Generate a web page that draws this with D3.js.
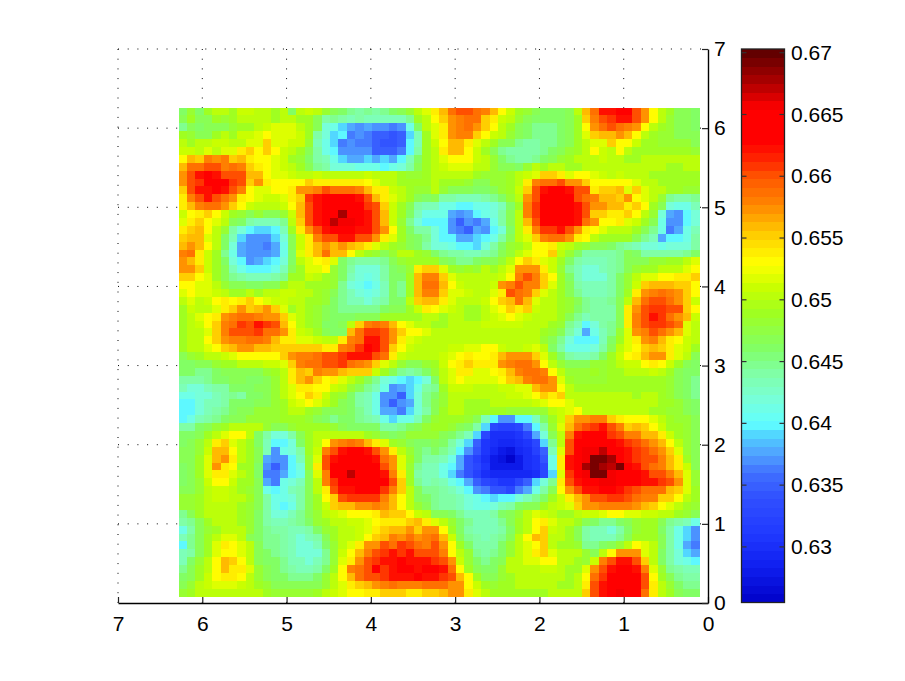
<!DOCTYPE html>
<html><head><meta charset="utf-8">
<script src="https://cdn.jsdelivr.net/npm/d3@7/dist/d3.min.js"></script>
<style>html,body{margin:0;background:#fff}svg{display:block;font-family:"Liberation Sans",Arial,sans-serif}</style>
</head><body><svg id="c" width="905" height="681"></svg>
<script>
const xTicks=[0,1,2,3,4,5,6,7];
const yTicks=[0,1,2,3,4,5,6,7];
const barTicks=[0.63,0.635,0.64,0.645,0.65,0.655,0.66,0.665,0.67];
const barTickLabels=["0.63","0.635","0.64","0.645","0.65","0.655","0.66","0.665","0.67"];
const valueRange=[0.6255,0.6703];
const extentX=[0.1,6.28];
const extentY=[0.08,6.26];
const stopValues=[0.6255,0.6285,0.631,0.634,0.636,0.6375,0.639,0.64,0.642,0.644,0.646,0.649,0.651,0.6530,0.655,0.6565,0.658,0.66,0.661,0.6628,0.6655,0.6675,0.6703];
const stopColors=["#0000c8","#1020f0","#2038ff","#3050ff","#4070ff","#50a0ff","#50d0ff","#60ffff","#78ffd8","#80ffa8","#80ff68","#a0ff20","#c8ff00","#ffff00","#ffd500","#ffaa00","#ff8000","#ff5500","#ff3000","#ff0000","#ff0000","#b00000","#580000"];
// cell values: thousandths above 0.6
const cells=[
[46,48,46,49,50,50,49,51,51,50,50,49,50,46,50,51,50,48,47,46,45,44,45,44,45,46,47,48,50,52,54,56,59,60,60,59,58,56,53,51,49,48,47,46,46,46,47,50,56,59,62,62,64,64,60,57,53,50,49,47,47,46],
[47,49,47,47,49,48,49,50,50,50,50,49,50,50,49,49,47,44,45,44,43,44,43,43,43,43,43,45,49,50,53,55,57,58,59,59,55,54,51,50,48,47,46,46,46,46,47,49,55,58,60,61,62,62,60,57,53,50,48,47,47,46],
[45,47,46,47,47,47,48,49,49,50,51,52,52,52,50,49,47,42,41,39,38,37,38,37,37,36,37,41,46,50,52,54,57,58,59,57,55,53,50,49,47,46,45,45,45,46,47,49,53,57,59,60,59,58,57,53,50,49,48,47,47,46],
[49,48,47,47,49,50,49,51,51,52,53,52,52,52,51,49,44,42,39,40,36,37,36,35,35,34,35,39,43,49,52,54,57,58,58,55,53,51,50,48,47,46,45,45,45,46,47,49,52,55,56,56,57,56,53,50,49,48,48,47,47,47],
[50,49,50,50,51,51,50,50,52,52,55,52,52,51,51,48,43,41,39,36,37,36,36,35,34,34,35,40,43,49,51,53,56,56,54,52,50,49,47,47,45,44,44,45,45,46,47,49,50,52,52,55,53,53,51,49,49,48,48,48,48,47],
[51,51,50,52,50,52,52,54,55,53,55,53,51,50,49,47,44,41,40,37,37,37,37,35,35,35,36,40,44,49,50,54,56,56,53,51,49,47,45,44,44,44,44,45,46,47,48,49,50,53,51,50,53,50,49,49,49,49,49,49,49,48],
[53,56,55,58,57,58,55,56,54,53,53,52,51,49,48,46,44,43,41,39,38,38,39,38,39,38,40,43,46,49,50,52,53,53,53,51,50,48,46,45,44,44,45,46,47,48,49,50,50,50,51,50,50,49,49,50,50,50,50,50,50,50],
[56,59,59,60,60,58,59,58,55,54,53,52,51,50,49,47,45,44,42,42,42,41,41,41,40,41,42,44,47,49,50,51,52,52,52,50,50,48,47,47,46,48,50,49,50,50,49,49,50,50,50,50,50,50,50,50,50,50,49,49,50,50],
[57,60,62,63,62,60,60,60,56,56,53,52,52,51,50,50,51,50,50,50,50,50,51,50,50,50,49,48,48,49,50,50,50,50,50,49,48,48,48,49,50,51,52,55,55,54,52,53,53,52,51,50,51,50,50,50,49,49,49,49,49,49],
[57,60,61,63,63,63,61,60,55,57,54,53,53,53,53,55,54,54,54,54,54,54,53,52,50,50,49,49,49,49,50,49,49,49,48,47,47,48,48,49,50,54,58,59,59,60,57,57,55,53,53,53,53,53,52,50,50,49,49,49,49,49],
[55,60,62,62,63,62,60,58,53,52,52,53,53,54,57,57,58,60,59,59,59,58,56,54,54,51,50,49,48,48,50,48,47,47,47,46,46,47,48,49,51,55,60,62,63,63,62,60,60,54,55,55,56,52,55,52,50,50,49,49,48,48],
[54,58,60,62,60,59,57,54,53,52,51,51,52,54,55,61,62,63,63,63,63,62,60,56,54,52,50,49,47,46,47,44,44,43,43,43,44,45,46,48,50,57,60,63,64,64,63,60,59,58,56,56,55,57,53,52,50,48,45,44,44,45],
[54,56,58,59,59,57,55,53,51,50,50,50,51,53,56,60,62,63,64,64,64,63,61,60,55,51,49,47,44,43,43,41,41,40,40,41,41,42,43,46,49,58,61,63,65,65,64,62,60,57,57,56,56,54,55,53,49,47,42,41,41,43],
[51,53,54,55,53,51,49,48,47,48,47,47,48,51,56,60,62,63,64,68,65,64,62,60,56,51,49,46,43,41,41,41,38,37,38,40,41,42,44,47,50,58,61,63,64,64,63,62,60,55,55,54,54,55,53,50,48,42,38,37,40,42],
[52,54,55,53,52,50,47,46,44,43,43,43,45,50,55,60,62,63,67,66,66,64,62,60,56,51,48,45,42,40,40,40,37,35,37,36,38,41,44,47,50,56,60,63,63,64,63,62,59,57,53,53,54,52,51,49,47,41,37,37,40,42],
[54,55,56,53,50,48,44,42,40,39,39,40,43,49,54,57,60,62,63,63,63,62,62,60,57,53,49,46,44,44,42,40,37,36,35,38,37,40,42,46,50,54,58,61,61,62,60,57,54,53,52,50,50,50,49,47,45,41,36,38,41,43],
[55,56,56,52,50,46,43,39,37,37,37,39,42,47,51,54,58,60,60,62,62,60,60,57,54,52,49,47,46,45,42,40,40,38,38,39,40,41,44,47,50,52,55,58,59,59,57,54,53,50,49,49,49,49,47,45,43,38,40,40,41,44],
[56,57,56,53,50,46,42,38,37,37,36,38,41,47,51,54,56,57,56,57,56,55,54,52,50,49,48,47,46,44,42,42,41,40,40,39,42,44,46,48,49,50,53,53,54,51,50,49,48,47,47,46,45,44,43,42,42,41,42,42,42,44],
[58,59,54,51,49,45,41,38,37,37,37,38,41,46,52,54,56,59,56,56,53,50,49,48,47,48,50,50,49,48,46,45,44,44,43,43,44,45,47,48,50,52,53,53,55,50,48,46,44,44,44,44,45,47,46,44,44,44,44,44,45,46],
[57,56,54,51,49,46,42,40,37,38,39,40,42,46,50,52,53,54,52,46,45,44,44,44,45,47,48,49,49,49,49,47,46,45,45,46,47,47,48,50,53,55,54,52,51,49,46,44,43,43,43,44,45,47,47,47,48,48,49,49,50,52],
[57,57,55,51,49,47,43,41,40,40,40,41,43,47,49,52,52,53,48,46,44,42,42,42,44,46,47,48,54,55,55,52,49,48,49,48,50,49,50,52,57,57,57,54,51,48,45,43,42,42,43,44,45,47,48,49,49,50,50,50,52,53],
[55,55,53,52,49,47,45,44,43,43,43,44,45,49,49,51,50,49,48,46,43,42,41,42,44,46,46,49,56,58,58,55,52,50,50,50,50,50,51,53,58,60,58,55,53,49,46,43,42,42,42,44,46,48,50,52,52,53,53,54,54,55],
[53,53,52,52,50,48,47,47,46,46,47,47,49,50,50,49,49,49,48,45,42,41,40,41,43,46,45,49,56,59,59,56,53,51,50,50,50,51,57,58,60,58,58,55,52,49,47,44,43,43,43,44,46,48,51,55,56,56,56,55,55,53],
[52,53,52,52,51,50,49,49,50,49,50,50,51,51,50,50,49,48,47,45,43,42,41,42,43,46,45,49,56,58,58,55,52,52,51,50,50,52,54,60,59,58,55,52,50,49,47,45,43,43,43,44,46,49,54,57,58,59,58,57,55,53],
[50,52,50,51,53,54,53,54,55,53,52,51,51,50,50,49,49,48,46,45,43,43,42,43,44,46,46,50,55,56,56,54,52,50,50,50,51,53,55,56,59,56,52,50,50,49,48,47,45,44,44,45,47,50,56,59,60,60,59,57,55,51],
[49,51,50,50,52,54,55,57,55,56,57,55,52,49,50,49,48,47,46,45,45,45,45,45,46,47,47,49,51,54,53,52,51,50,49,49,50,52,53,55,54,55,51,50,50,49,48,46,45,44,44,44,47,54,57,60,61,61,60,60,55,53],
[49,50,52,53,54,57,58,59,59,58,57,57,55,52,50,49,48,47,46,46,46,47,47,47,49,49,49,49,49,50,50,49,50,50,49,49,50,51,52,53,52,51,50,50,50,49,47,45,43,44,44,44,47,54,58,60,62,61,59,57,56,51],
[49,50,51,53,55,58,59,61,60,62,61,60,56,53,50,49,48,46,46,47,50,55,58,59,58,56,53,52,50,50,49,49,50,50,50,50,51,51,51,51,51,50,50,50,49,48,45,43,40,42,44,45,47,54,58,60,61,61,60,59,52,50],
[49,50,50,52,55,58,60,60,60,61,59,59,57,54,51,50,49,47,46,46,56,59,61,61,60,57,55,53,53,52,50,50,50,50,50,50,50,50,50,50,50,50,50,49,48,47,44,42,38,41,43,45,48,52,57,58,60,59,57,56,52,50],
[49,50,50,53,55,57,58,58,59,59,58,56,54,54,52,52,51,50,50,54,58,59,62,62,60,57,54,52,51,50,50,50,50,50,50,50,50,50,50,50,50,50,50,48,47,45,42,40,40,40,43,46,49,52,54,57,58,56,54,53,51,50],
[49,50,50,52,53,55,56,57,57,56,56,55,55,55,55,55,55,54,54,58,59,61,63,62,60,55,53,51,50,50,50,50,51,51,52,52,53,53,51,50,50,51,52,50,46,44,41,41,41,42,44,47,50,52,53,55,56,55,54,52,51,49],
[47,48,49,50,50,51,52,53,53,53,53,53,55,57,58,58,59,60,60,61,62,62,62,60,59,54,51,50,50,50,50,51,52,53,54,53,53,54,56,57,57,57,55,52,49,46,44,43,43,44,46,49,51,53,54,56,57,57,54,52,50,47],
[46,46,47,47,48,49,49,50,50,50,51,51,52,55,58,59,59,60,60,61,59,58,57,55,52,50,48,47,47,48,49,51,53,54,55,54,54,54,57,58,59,59,57,53,50,48,47,47,47,48,48,49,50,51,51,53,54,53,51,49,47,46],
[46,46,45,45,46,47,47,47,47,47,48,49,50,54,56,55,58,57,57,56,55,55,55,51,49,47,45,44,45,46,48,50,52,54,54,52,52,53,54,56,58,59,59,58,53,50,48,48,48,49,48,49,49,50,50,50,51,50,49,47,46,46],
[44,44,44,45,46,46,47,47,46,46,47,48,50,54,56,57,55,53,54,52,50,49,47,45,42,41,40,39,40,42,46,50,52,53,52,52,52,52,53,55,56,58,59,59,57,52,49,48,48,48,48,49,49,49,49,49,49,49,48,47,46,45],
[43,42,42,43,44,44,46,46,46,47,47,48,50,52,54,54,53,53,51,50,48,47,45,43,41,37,38,39,41,44,45,49,51,51,51,50,50,50,51,51,52,52,56,57,57,53,50,49,49,49,49,49,49,49,49,49,49,49,48,47,46,45],
[41,41,42,42,43,44,45,44,46,46,47,48,50,52,53,55,54,51,49,48,46,44,43,41,37,37,35,39,42,45,46,48,50,50,50,50,50,50,50,51,51,52,53,55,54,55,50,50,50,50,50,50,50,50,49,50,50,49,48,47,46,45],
[40,40,42,43,43,44,46,46,46,47,47,48,49,51,52,53,52,50,49,47,46,44,43,41,37,35,37,38,42,45,47,48,50,50,49,49,49,50,50,50,50,50,51,52,53,53,52,50,50,50,50,50,50,50,50,50,50,49,49,48,47,46],
[40,40,42,43,44,45,46,47,47,48,48,48,49,50,50,49,48,47,47,47,46,45,43,41,38,38,36,39,42,44,47,49,50,50,49,49,49,49,49,48,48,48,48,48,50,51,52,53,50,50,50,50,50,50,50,50,49,49,48,48,47,46],
[40,41,43,44,45,46,47,47,48,48,48,48,49,49,49,48,47,46,45,46,46,45,44,43,41,39,41,41,43,46,48,49,49,49,48,47,43,40,37,37,40,40,43,46,49,51,55,57,57,58,58,55,54,53,53,53,52,50,49,48,48,47],
[44,44,46,47,48,49,50,50,50,50,48,47,47,48,49,49,49,49,48,47,46,46,46,46,44,44,45,46,47,48,49,49,48,47,46,44,39,33,32,32,33,36,40,44,48,52,56,59,60,61,62,60,58,55,56,55,53,51,49,49,48,47],
[46,46,47,49,50,52,53,53,50,46,44,42,42,44,47,49,50,50,50,50,50,50,49,48,47,46,47,48,48,48,48,47,46,45,43,39,33,30,30,30,31,33,38,42,47,50,58,62,63,63,63,61,60,58,58,56,56,54,51,49,48,47],
[46,47,48,50,54,55,52,50,49,46,43,40,40,42,46,49,50,53,57,58,59,58,56,54,52,49,48,47,46,46,47,46,44,42,39,35,31,30,29,29,30,31,33,39,45,50,60,63,63,64,65,63,62,61,60,59,57,56,53,50,48,47],
[47,47,48,51,56,56,53,50,49,47,43,37,41,42,44,49,51,58,60,62,63,63,62,60,57,54,50,48,46,45,46,45,43,40,37,34,31,29,28,27,29,30,32,35,43,52,60,63,66,66,67,64,63,62,61,60,59,57,55,52,48,47],
[47,47,49,52,56,57,54,50,49,47,38,37,37,40,43,48,52,60,62,63,64,64,63,62,59,57,52,49,46,44,44,43,41,38,34,32,30,28,27,26,28,30,31,34,41,54,62,64,66,69,69,68,64,62,61,60,60,58,56,54,49,47],
[46,47,49,52,57,54,53,49,49,46,37,35,37,40,42,48,54,60,63,63,64,64,64,63,60,57,52,48,45,43,43,41,40,38,34,33,31,28,28,28,28,30,31,33,41,54,62,63,68,69,68,67,69,64,62,60,59,58,56,54,51,47],
[46,47,49,52,54,54,52,50,49,46,36,36,38,40,41,47,52,58,63,65,67,65,65,64,62,58,54,49,44,43,43,41,39,36,34,32,30,29,29,29,29,29,30,33,39,52,61,63,66,69,69,66,64,64,63,62,60,60,58,56,52,48],
[46,47,48,51,53,53,51,49,49,47,38,36,41,42,43,47,50,58,61,63,64,64,65,65,63,60,55,49,45,43,44,43,41,40,38,35,33,32,31,31,33,35,39,42,45,54,60,62,64,65,66,66,65,63,63,62,62,61,60,57,52,48],
[47,47,48,50,51,51,50,49,48,47,41,40,41,43,44,47,50,54,60,62,62,63,63,63,61,58,55,50,47,45,45,44,43,42,40,37,36,34,34,33,36,38,41,44,47,53,57,60,62,62,63,63,62,61,60,59,59,59,56,55,52,49],
[48,48,49,50,51,51,50,50,49,47,44,41,41,42,44,47,49,53,55,60,61,61,61,61,58,56,53,50,47,46,45,44,44,43,42,41,40,39,40,40,42,43,45,46,49,51,54,56,57,60,60,61,61,60,59,58,58,55,55,53,50,49],
[48,48,49,50,50,50,50,49,48,47,44,41,40,41,44,47,49,51,55,56,56,57,57,58,57,56,53,50,48,47,45,44,44,43,42,41,41,42,43,44,46,47,47,49,50,51,52,55,57,57,58,58,58,58,57,56,55,53,52,50,49,48],
[45,47,49,50,50,50,50,49,48,46,44,42,42,43,45,47,48,50,51,52,53,53,53,54,56,55,55,53,51,50,47,47,46,45,43,43,43,44,46,47,48,50,52,51,50,49,49,50,51,51,52,53,53,52,52,51,51,50,50,49,48,47],
[44,45,47,49,50,50,50,49,48,46,44,43,43,44,45,46,48,49,50,50,51,51,52,53,54,54,54,55,56,54,52,50,48,46,45,43,43,43,45,47,49,50,53,54,52,50,50,49,47,46,45,45,46,47,48,49,49,47,45,44,43,41],
[41,44,47,48,49,50,50,50,48,46,45,44,44,43,43,44,46,48,49,50,50,51,52,54,55,56,56,57,55,57,57,53,49,46,44,43,43,43,44,46,49,50,53,55,51,50,49,47,44,43,43,42,44,46,48,49,49,46,44,41,39,37],
[43,45,47,49,50,52,52,50,47,46,45,45,44,43,42,43,44,47,49,50,50,51,53,55,56,58,57,59,57,58,59,56,51,47,45,44,43,44,45,47,50,53,56,55,50,50,49,47,44,43,43,43,45,47,49,49,49,47,44,41,39,37],
[40,45,47,49,52,54,53,52,50,47,45,45,44,43,42,42,43,46,48,50,52,54,57,57,60,59,61,60,59,58,60,57,53,49,46,44,44,44,46,48,50,52,53,55,50,49,49,48,45,45,46,47,48,50,53,52,50,47,44,41,38,36],
[43,44,47,49,52,53,53,52,50,47,46,45,44,43,42,42,42,45,48,51,53,56,58,60,61,62,61,62,60,60,60,58,53,50,48,45,44,45,46,48,50,52,54,55,52,50,50,50,48,47,50,53,57,57,57,52,50,46,44,42,39,38],
[43,46,48,50,53,56,55,53,50,47,46,46,45,43,43,42,43,45,48,52,54,57,60,61,62,62,63,62,62,62,61,60,57,51,48,46,45,46,47,50,50,52,52,53,53,50,50,49,48,51,58,60,62,62,60,55,50,46,44,42,41,40],
[45,47,49,50,53,56,54,54,52,48,47,46,45,44,43,43,44,46,49,53,58,59,60,63,61,62,63,63,62,63,63,62,59,53,49,47,46,46,48,50,50,50,50,51,51,50,49,49,52,57,60,62,63,64,62,58,52,48,45,44,43,43],
[46,47,49,51,53,54,54,53,50,48,47,46,46,45,45,45,46,48,50,53,56,59,60,60,61,62,62,62,63,62,62,61,60,56,53,49,47,47,48,49,50,50,50,50,50,50,49,50,53,59,61,63,64,64,63,60,53,49,47,45,44,44],
[47,48,50,51,52,52,52,51,50,49,48,47,47,47,47,47,47,48,50,52,54,55,56,57,58,59,58,58,58,59,59,59,57,57,53,51,49,48,49,49,50,50,50,50,50,49,49,50,54,60,62,63,65,65,63,60,54,50,48,46,45,45],
[48,49,50,50,50,50,50,50,50,50,49,48,48,48,48,48,49,50,51,52,53,53,54,54,55,55,55,54,54,55,55,56,57,57,54,52,50,49,49,49,49,49,49,49,50,50,50,50,55,60,62,63,66,65,63,59,54,50,49,47,46,46]
];
const font=21;
const svg=d3.select("#c");
const x=d3.scaleLinear().domain([7,0]).range([118,708]);
const y=d3.scaleLinear().domain([0,7]).range([603,49]);
const cbY=d3.scaleLinear().domain(valueRange).range([602.5,49]);
const continuous=d3.scaleLinear().domain(stopValues).range(stopColors).interpolate(d3.interpolateRgb);
const bands=d3.range(64);
const bandStart=i=>valueRange[0]+(valueRange[1]-valueRange[0])*i/64;
const bandColor=bands.map(i=>continuous(bandStart(i+0.5)));
const colorOf=v=>bandColor[Math.max(0,Math.min(63,Math.floor((v-valueRange[0])/(valueRange[1]-valueRange[0])*64)))];
const dots="1 8.7";
const grid=svg.append("g").attr("stroke","#000").attr("stroke-width",1).attr("stroke-dasharray",dots).attr("fill","none");
grid.selectAll("line.v").data(xTicks.slice(1)).join("line").attr("x1",d=>x(d)).attr("x2",d=>x(d)).attr("y1",y(7)).attr("y2",y(0));
grid.selectAll("line.h").data(yTicks.slice(1)).join("line").attr("y1",d=>y(d)).attr("y2",d=>y(d)).attr("x1",x(7)).attr("x2",x(0));
const nRows=cells.length,nCols=cells[0].length;
const cw=(extentX[1]-extentX[0])/nCols,ch=(extentY[1]-extentY[0])/nRows;
const heat=svg.append("g").attr("shape-rendering","crispEdges");
cells.forEach((row,r)=>{
  heat.selectAll(null).data(row).join("rect")
    .attr("x",(d,c)=>x(extentX[1]-c*cw))
    .attr("width",(d,c)=>x(extentX[1]-(c+1)*cw)-x(extentX[1]-c*cw))
    .attr("y",y(extentY[1]-r*ch))
    .attr("height",y(extentY[1]-(r+1)*ch)-y(extentY[1]-r*ch))
    .attr("fill",d=>colorOf(0.6+d/1000));
});
function styleAxis(g){
  g.select(".domain").attr("stroke","#000").attr("stroke-width",1.4);
  g.selectAll(".tick line").attr("stroke","#222").attr("stroke-width",1.2);
  g.selectAll("text").attr("fill","#000").attr("font-size",font).attr("font-family",'"Liberation Sans",Arial,sans-serif');
}
const ax=svg.append("g").attr("transform",`translate(0,${y(0)})`)
  .call(d3.axisBottom(x).tickValues(xTicks).tickSizeInner(-6).tickSizeOuter(0).tickPadding(13).tickFormat(d3.format("d")));
styleAxis(ax);
const ay=svg.append("g").attr("transform",`translate(${x(0)},0)`)
  .call(d3.axisRight(y).tickValues(yTicks).tickSizeInner(-6).tickSizeOuter(0).tickPadding(6).tickFormat(d3.format("d")));
styleAxis(ay);
const cbL=741.5,cbR=784.5;
svg.append("g").attr("shape-rendering","crispEdges").selectAll("rect").data(bands).join("rect")
  .attr("x",cbL).attr("width",cbR-cbL)
  .attr("y",i=>cbY(bandStart(i+1))).attr("height",i=>cbY(bandStart(i))-cbY(bandStart(i+1))+0.5)
  .attr("fill",i=>bandColor[i]);
svg.append("rect").attr("x",cbL).attr("y",cbY.range()[1]).attr("width",cbR-cbL).attr("height",cbY.range()[0]-cbY.range()[1])
  .attr("fill","none").attr("stroke","#222").attr("stroke-width",1.3);
const cbg=svg.append("g");
cbg.selectAll("line.l").data(barTicks).join("line").attr("x1",cbL).attr("x2",cbL+5).attr("y1",d=>cbY(d)).attr("y2",d=>cbY(d)).attr("stroke","#333").attr("stroke-width",1.2);
cbg.selectAll("line.r").data(barTicks).join("line").attr("x1",cbR-5).attr("x2",cbR).attr("y1",d=>cbY(d)).attr("y2",d=>cbY(d)).attr("stroke","#333").attr("stroke-width",1.2);
cbg.selectAll("text").data(barTicks).join("text").attr("x",791).attr("y",d=>cbY(d)).attr("dy","0.34em")
  .attr("font-size",font).attr("fill","#000").text((d,i)=>barTickLabels[i]);
</script></body></html>
